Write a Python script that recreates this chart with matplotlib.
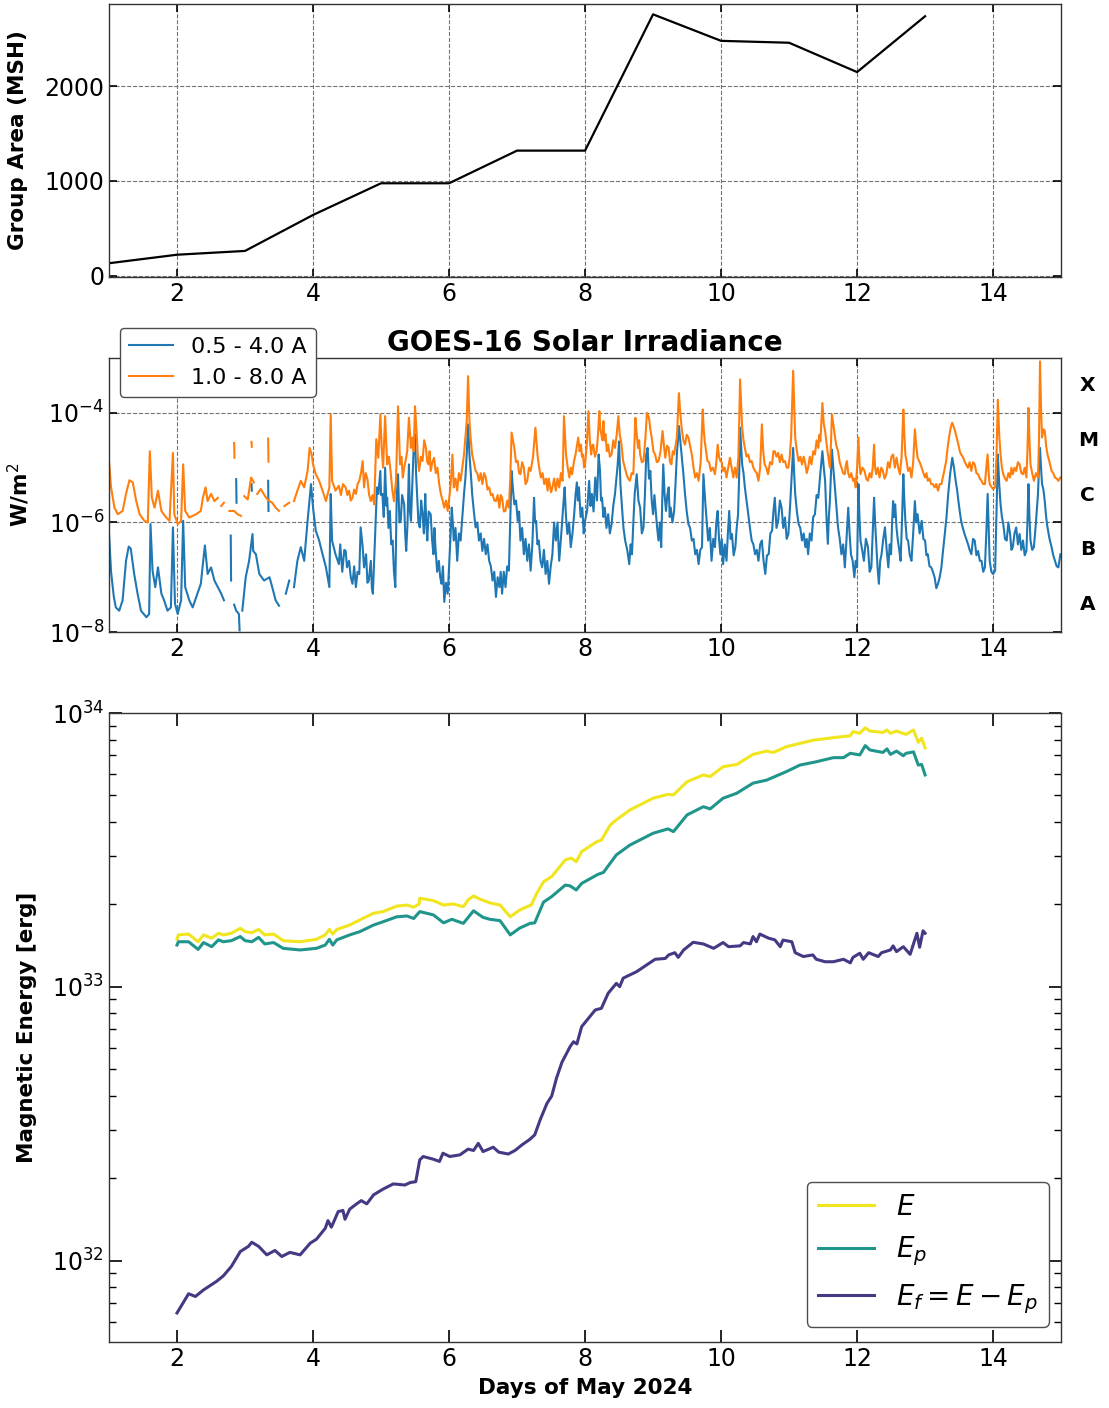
import numpy as np
import matplotlib
matplotlib.use("Agg")
import matplotlib.pyplot as plt
from matplotlib.transforms import blended_transform_factory
from matplotlib.ticker import NullLocator

nan = np.nan

# ---------------- Panel 1: sunspot group area ----------------
area_days = [1, 2, 3, 4, 5, 6, 7, 8, 9, 10, 11, 12, 13]
area_msh = [130, 220, 260, 640, 975, 975, 1320, 1320, 2760, 2480, 2460, 2150, 2740]

# ---------------- Panel 2: GOES-16 X-ray flux, log10(W/m^2) ----------------
# 1.0 - 8.0 A channel, May 1 - May 4.4
long_days_a = [1.00, 1.03, 1.08, 1.13, 1.20, 1.25, 1.30, 1.35, 1.40, 1.45, 1.52, 1.57, 1.60, 1.63, 1.67,
               1.72, 1.77, 1.84, 1.89, 1.94, 1.96, 2.01, 2.06, 2.09, 2.12, 2.18, 2.28, 2.35, 2.38, 2.42,
               2.45, 2.50, 2.55, 2.60, nan, 2.65, 2.69, nan, 2.77, 2.84, 2.89, 2.94, nan, 2.84, 2.845, nan,
               2.99, 3.04, 3.09, 3.13, nan, 3.095, 3.10, nan, 3.18, 3.23, 3.31, 3.36, 3.40, 3.45, 3.50,
               nan, 3.34, 3.345, nan, 3.58, 3.65, nan, 3.72, 3.77, 3.82, 3.87, 3.92, 3.95, 3.98, 4.00,
               4.04, 4.09, 4.14, 4.19, 4.24, 4.26, 4.28, 4.33]
long_log_a = [-4.88, -5.36, -5.73, -5.85, -5.79, -5.48, -5.23, -5.27, -5.61, -5.85, -5.97, -6.00, -4.70, -5.55, -5.73,
              -5.42, -5.79, -5.91, -5.97, -4.73, -5.85, -6.03, -5.97, -4.94, -5.79, -5.91, -5.85, -5.79, -5.55, -5.36,
              -5.61, -5.48, -5.61, -5.55, nan, -5.70, -5.64, nan, -5.79, -5.79, -5.85, -5.88, nan, -4.55, -4.82, nan,
              -5.52, -5.58, -5.18, -5.27, nan, -4.53, -4.62, nan, -5.48, -5.39, -5.55, -5.61, -5.64, -5.73, -5.79,
              nan, -4.47, -4.89, nan, -5.70, -5.64, nan, -5.61, -5.42, -5.24, -5.36, -5.06, -4.64, -4.76, -4.94,
              -5.12, -5.24, -5.42, -5.61, -5.36, -4.03, -5.24, -5.42]
# 1.0 - 8.0 A channel, May 4.4 - May 8
long_days_b = [4.38, 4.41, 4.44, 4.48, 4.505, 4.53, 4.555, 4.58, 4.605, 4.63, 4.655, 4.68, 4.705, 4.73, 4.75,
               4.775, 4.80, 4.825, 4.85, 4.875, 4.90, 4.93, 4.96, 4.99, 5.01, 5.03, 5.06, 5.09, 5.115, 5.14,
               5.165, 5.19, 5.22, 5.25, 5.28, 5.30, 5.32, 5.34, 5.36, 5.385, 5.41, 5.44, 5.46, 5.48, 5.50,
               5.53, 5.545, 5.56, 5.585, 5.61, 5.635, 5.66, 5.68, 5.70, 5.715, 5.73, 5.755, 5.78, 5.805, 5.83,
               5.855, 5.88, 5.905, 5.93, 5.955, 5.98, 6.01, 6.03, 6.05, 6.07, 6.095, 6.12, 6.145, 6.17, 6.195,
               6.22, 6.26, 6.28, 6.30, 6.32, 6.34, 6.365, 6.39, 6.415, 6.44, 6.465, 6.49, 6.515, 6.54, 6.565,
               6.59, 6.615, 6.64, 6.665, 6.69, 6.715, 6.74, 6.76, 6.78, 6.805, 6.83, 6.855, 6.88, 6.90, 6.92,
               6.94, 6.96, 6.985, 7.01, 7.03, 7.05, 7.075, 7.10, 7.125, 7.15, 7.175, 7.20, 7.235, 7.27, 7.30,
               7.325, 7.35, 7.375, 7.40, 7.425, 7.45, 7.465, 7.48, 7.50, 7.52, 7.545, 7.57, 7.595, 7.62, 7.645,
               7.67, 7.69, 7.72, 7.745, 7.77, 7.79, 7.81, 7.835, 7.86, 7.88, 7.90, 7.92, 7.94, 7.955, 7.97,
               7.985]
long_log_b = [-5.33, -5.50, -5.30, -5.36, -5.50, -5.42, -5.60, -5.55, -5.40, -5.48, -5.30, -5.24, -5.10, -4.88, -5.36,
              -5.10, -5.21, -5.50, -5.61, -5.50, -5.67, -4.48, -4.82, -4.03, -4.64, -5.00, -4.06, -4.94, -4.80, -5.06,
              -5.40, -5.61, -5.24, -3.88, -4.94, -4.80, -5.18, -5.00, -4.88, -4.70, -4.09, -4.64, -4.45, -4.70, -3.88,
              -4.52, -4.90, -5.06, -4.80, -4.88, -4.50, -4.64, -4.90, -4.94, -4.70, -5.06, -4.90, -4.82, -5.10, -5.00,
              -5.30, -5.48, -5.60, -5.73, -5.60, -5.79, -5.48, -5.20, -4.76, -5.36, -5.20, -5.42, -5.10, -5.24, -5.00,
              -4.76, -4.15, -3.33, -4.15, -4.50, -4.76, -4.90, -5.06, -5.10, -5.24, -5.10, -5.30, -5.10, -5.18, -5.40,
              -5.36, -5.50, -5.48, -5.60, -5.61, -5.50, -5.73, -5.50, -5.55, -5.80, -5.79, -5.60, -5.73, -5.20, -4.36,
              -4.50, -4.64, -4.90, -4.88, -5.10, -5.12, -4.90, -5.00, -5.30, -5.24, -5.00, -5.06, -4.80, -4.27, -4.76,
              -5.00, -5.18, -5.10, -5.30, -5.20, -5.42, -5.20, -5.30, -5.45, -5.36, -5.20, -5.42, -5.20, -5.36, -5.10,
              -5.24, -4.06, -4.76, -5.00, -5.18, -5.00, -5.12, -4.90, -4.76, -4.60, -4.45, -4.70, -4.58, -4.80, -4.76,
              -5.00]
# 1.0 - 8.0 A channel, May 8 - May 11.6
long_days_c = [8.00, 8.025, 8.05, 8.07, 8.09, 8.105, 8.12, 8.145, 8.17, 8.19, 8.21, 8.225, 8.24, 8.255, 8.27,
               8.285, 8.30, 8.32, 8.34, 8.365, 8.39, 8.415, 8.44, 8.465, 8.49, 8.51, 8.53, 8.545, 8.56, 8.585,
               8.61, 8.635, 8.66, 8.685, 8.71, 8.725, 8.74, 8.76, 8.78, 8.795, 8.81, 8.835, 8.86, 8.885, 8.91,
               8.94, 8.96, 8.98, 9.005, 9.03, 9.055, 9.08, 9.11, 9.14, 9.16, 9.18, 9.205, 9.23, 9.25, 9.27,
               9.29, 9.31, 9.33, 9.35, 9.38, 9.40, 9.42, 9.445, 9.47, 9.495, 9.52, 9.545, 9.57, 9.595, 9.62,
               9.645, 9.67, 9.70, 9.73, 9.745, 9.76, 9.78, 9.80, 9.825, 9.85, 9.88, 9.91, 9.93, 9.95, 9.97,
               9.99, 10.01, 10.03, 10.055, 10.08, 10.105, 10.13, 10.155, 10.18, 10.205, 10.23, 10.255, 10.28,
               10.31, 10.33, 10.35, 10.375, 10.40, 10.425, 10.45, 10.475, 10.50, 10.525, 10.55, 10.575, 10.60,
               10.62, 10.64, 10.665, 10.69, 10.72, 10.75, 10.77, 10.79, 10.815, 10.84, 10.865, 10.89, 10.915,
               10.94, 10.965, 10.99, 11.01, 11.03, 11.06, 11.09, 11.115, 11.14, 11.165, 11.19, 11.215, 11.24,
               11.26, 11.28, 11.305, 11.33, 11.355, 11.38, 11.405, 11.43, 11.445, 11.46, 11.49, 11.51, 11.53,
               11.565]
long_log_c = [-4.94, -4.60, -3.97, -4.50, -4.76, -4.60, -4.58, -4.80, -4.70, -4.40, -3.97, -4.30, -4.39, -4.50, -4.15,
              -4.50, -4.39, -4.70, -4.58, -4.80, -4.76, -4.50, -4.64, -4.40, -4.06, -4.40, -4.52, -4.70, -4.88, -5.00,
              -5.12, -5.20, -5.24, -5.10, -5.12, -4.60, -4.09, -4.40, -4.64, -4.50, -4.76, -4.90, -4.88, -4.50, -4.00,
              -4.09, -4.30, -4.45, -4.70, -4.76, -4.90, -4.88, -4.70, -4.33, -4.60, -4.82, -4.60, -4.64, -4.90, -4.94,
              -4.70, -4.76, -4.60, -4.45, -3.64, -4.00, -4.27, -4.50, -4.58, -4.40, -4.45, -4.60, -4.76, -5.00, -5.18,
              -5.10, -5.24, -4.90, -3.94, -4.30, -4.52, -4.70, -4.88, -4.90, -5.06, -5.00, -5.12, -4.90, -4.58, -4.80,
              -4.88, -4.90, -5.06, -5.00, -5.18, -5.00, -4.82, -5.00, -5.18, -5.00, -5.18, -4.80, -3.39,
              -4.27, -4.50, -4.64, -4.80, -4.76, -4.90, -4.88, -5.00, -5.06, -5.10, -5.24, -5.00, -4.21,
              -4.70, -4.94, -5.00, -5.12, -4.90, -4.94, -4.70, -4.70, -4.80, -4.73, -4.90, -4.76, -4.90,
              -4.88, -5.00, -5.00, -4.80, -4.45, -3.23, -4.45, -4.70, -4.88, -4.80, -4.94, -4.80, -4.94,
              -5.10, -5.00, -4.80, -4.94, -4.70, -4.76, -4.50, -4.64, -4.40, -4.52, -3.82, -4.20, -4.33,
              -4.70]
# 1.0 - 8.0 A channel, May 11.6 - May 15
long_days_d = [11.60, 11.615, 11.63, 11.65, 11.67, 11.695, 11.72, 11.745, 11.77, 11.795, 11.82, 11.835, 11.85,
               11.87, 11.89, 11.915, 11.94, 11.96, 11.98, 12.00, 12.02, 12.035, 12.05, 12.08, 12.11, 12.135,
               12.16, 12.185, 12.21, 12.23, 12.25, 12.265, 12.28, 12.305, 12.33, 12.355, 12.38, 12.405, 12.43,
               12.455, 12.48, 12.505, 12.53, 12.555, 12.58, 12.605, 12.63, 12.655, 12.68, 12.695, 12.71, 12.73,
               12.75, 12.775, 12.80, 12.825, 12.85, 12.87, 12.89, 12.92, 12.95, 12.975, 13.00, 13.02, 13.04,
               13.065, 13.09, 13.115, 13.14, 13.165, 13.19, 13.215, 13.24, 13.275, 13.31, 13.335, 13.36, 13.38,
               13.40, 13.42, 13.44, 13.465, 13.49, 13.51, 13.53, 13.555, 13.58, 13.605, 13.63, 13.655, 13.68,
               13.705, 13.73, 13.755, 13.78, 13.805, 13.83, 13.855, 13.88, 13.90, 13.92, 13.935, 13.95, 13.975,
               14.00, 14.03, 14.05, 14.07, 14.09, 14.11, 14.13, 14.15, 14.175, 14.20, 14.225, 14.25, 14.27,
               14.29, 14.315, 14.34, 14.365, 14.39, 14.415, 14.44, 14.465, 14.49, 14.505, 14.52, 14.535, 14.55,
               14.575, 14.60, 14.63, 14.66, 14.675, 14.69, 14.705, 14.72, 14.74, 14.76, 14.78, 14.80, 14.83,
               14.86, 14.885, 14.91, 14.935, 14.96, 14.99]
long_log_d = [-5.00, -4.60, -4.03, -4.20, -4.39, -4.60, -4.70, -4.90, -5.00, -5.10, -5.12, -4.95, -4.88,
              -5.10, -5.18, -5.10, -5.24, -5.20, -5.36, -5.00, -4.45, -4.90, -5.12, -5.00, -5.06, -5.20,
              -5.24, -5.10, -5.18, -5.00, -4.58, -5.00, -5.12, -5.00, -5.18, -5.00, -5.06, -5.20, -5.12,
              -4.90, -5.00, -4.80, -4.76, -5.00, -4.82, -5.00, -5.12, -4.80, -3.94, -4.40, -4.76, -4.90,
              -5.06, -5.00, -5.18, -4.90, -4.30, -4.60, -4.82, -4.90, -5.00, -5.10, -5.18, -5.10, -5.24,
              -5.20, -5.30, -5.30, -5.36, -5.30, -5.42, -5.30, -5.30, -5.10, -4.88, -4.60, -4.39, -4.25,
              -4.18, -4.25, -4.33, -4.45, -4.58, -4.70, -4.76, -4.80, -4.88, -4.95, -5.00, -4.90, -5.06,
              -4.90, -4.94, -5.10, -5.12, -5.20, -5.24, -5.30, -5.30, -5.00, -4.76, -5.10, -5.30, -5.35,
              -5.39, -5.36, -4.80, -3.76, -4.40, -4.76, -5.00, -5.12, -5.20, -5.24, -5.10, -5.18, -5.00,
              -5.12, -5.00, -5.06, -4.90, -4.94, -5.10, -5.12, -5.00, -5.18, -4.70, -3.91, -4.50, -4.94,
              -5.10, -5.24, -5.10, -5.18, -4.50, -3.06, -3.90, -4.45, -4.30, -4.33, -4.60, -4.76, -4.90,
              -5.06, -5.10, -5.18, -5.20, -5.24, -5.18]

# 0.5 - 4.0 A channel, May 1 - May 4.4
short_days_a = [1.00, 1.03, 1.07, 1.10, 1.15, 1.20, 1.25, 1.29, 1.32, 1.37, 1.42, 1.47, 1.55, 1.59, 1.61,
                1.64, 1.68, 1.72, 1.77, 1.81, 1.86, 1.91, 1.94, 1.97, 2.01, 2.06, 2.09, 2.12, 2.18, 2.23,
                2.30, 2.35, 2.38, 2.41, 2.45, 2.50, 2.55, 2.60, 2.65, 2.69, nan, 2.79, 2.795, nan, 2.84,
                2.87, 2.91, 2.92, nan, 2.87, 2.875, nan, 2.96, 3.01, 3.06, 3.11, 3.12, 3.16, 3.21, 3.28,
                3.36, 3.40, 3.45, 3.50, nan, 3.095, 3.10, nan, 3.34, 3.345, nan, 3.60, 3.65, nan, 3.72,
                3.77, 3.82, 3.87, 3.92, 3.97, 4.00, 4.04, 4.09, 4.14, 4.19, 4.24, 4.26, 4.28, 4.33]
short_log_a = [-6.20, -6.90, -7.35, -7.55, -7.61, -7.42, -6.70, -6.44, -6.48, -6.94, -7.30, -7.61, -7.73, -7.67, -6.03,
               -6.88, -7.18, -6.82, -7.30, -7.42, -7.61, -7.55, -6.09, -7.48, -7.67, -7.42, -5.97, -7.18, -7.42, -7.55,
               -7.30, -7.12, -6.76, -6.42, -6.94, -6.82, -7.06, -7.18, -7.30, -7.42, nan, -6.24, -7.06, nan, -7.50,
               -7.61, -7.67, -7.97, nan, -5.21, -5.64, nan, -7.61, -7.00, -6.70, -6.21, -6.52, -6.58, -6.94, -7.06,
               -7.00, -7.18, -7.42, -7.52, nan, -5.30, -5.42, nan, -5.24, -5.79, nan, -7.30, -7.06, nan, -7.18,
               -6.70, -6.45, -6.70, -5.97, -5.30, -5.73, -6.15, -6.33, -6.58, -6.82, -7.18, -5.48, -6.33, -6.58]
# 0.5 - 4.0 A channel, May 4.4 - May 8
short_days_b = [4.38, 4.40, 4.43, 4.46, 4.48, 4.50, 4.53, 4.555, 4.58, 4.605, 4.63, 4.655, 4.68, 4.70, 4.73,
                4.75, 4.78, 4.80, 4.82, 4.85, 4.865, 4.88, 4.91, 4.94, 4.96, 4.99, 5.00, 5.02, 5.04, 5.06,
                5.08, 5.09, 5.11, 5.13, 5.15, 5.17, 5.19, 5.21, 5.23, 5.25, 5.27, 5.29, 5.31, 5.34, 5.355,
                5.37, 5.39, 5.41, 5.425, 5.44, 5.46, 5.48, 5.50, 5.515, 5.53, 5.55, 5.57, 5.59, 5.61, 5.63,
                5.65, 5.665, 5.68, 5.70, 5.73, 5.75, 5.77, 5.785, 5.80, 5.825, 5.85, 5.87, 5.89, 5.91, 5.93,
                5.955, 5.98, 6.00, 6.02, 6.04, 6.055, 6.07, 6.095, 6.12, 6.145, 6.17, 6.195, 6.22, 6.24, 6.26,
                6.28, 6.30, 6.32, 6.34, 6.365, 6.39, 6.415, 6.44, 6.465, 6.49, 6.515, 6.54, 6.565, 6.59, 6.615,
                6.64, 6.665, 6.69, 6.715, 6.74, 6.76, 6.78, 6.805, 6.83, 6.855, 6.88, 6.90, 6.92, 6.94, 6.96,
                6.985, 7.01, 7.03, 7.05, 7.075, 7.10, 7.125, 7.15, 7.175, 7.20, 7.225, 7.25, 7.265, 7.28, 7.30,
                7.32, 7.345, 7.37, 7.395, 7.42, 7.445, 7.47, 7.495, 7.52, 7.545, 7.57, 7.595, 7.62, 7.645, 7.67,
                7.685, 7.70, 7.72, 7.74, 7.765, 7.79, 7.815, 7.84, 7.86, 7.88, 7.895, 7.91, 7.935, 7.96, 7.98]
short_log_b = [-6.76, -6.40, -6.90, -6.50, -6.52, -6.82, -6.70, -7.00, -7.12, -6.80, -7.18, -6.90, -6.94, -6.09, -6.45,
               -6.82, -6.58, -7.10, -7.06, -6.70, -7.20, -7.30, -6.33, -5.36, -5.48, -5.06, -5.50, -5.48, -5.90, -5.00,
               -5.70, -5.55, -6.10, -5.79, -6.40, -6.33, -6.90, -7.18, -5.55, -5.12, -6.00, -5.97, -5.50, -5.67, -6.20,
               -6.52, -6.00, -4.94, -5.80, -5.97, -5.30, -4.64, -4.39, -5.10, -5.48, -6.00, -6.09, -5.60, -5.85, -6.20,
               -5.48, -6.00, -6.33, -5.80, -5.85, -6.30, -6.58, -6.10, -6.45, -6.90, -6.70, -7.00, -7.12, -6.80, -7.45,
               -7.10, -7.30, -6.82, -6.30, -5.73, -6.00, -6.33, -6.10, -6.70, -6.20, -6.33, -5.90, -5.48, -5.20, -4.76,
               -4.21, -4.76, -5.10, -5.48, -5.80, -6.09, -6.00, -6.33, -6.20, -6.52, -6.30, -6.58, -6.40, -6.70, -6.80,
               -7.06, -6.90, -7.36, -7.00, -7.18, -6.90, -7.30, -6.90, -7.18, -6.80, -6.88, -6.00, -5.06, -5.40, -5.67,
               -5.60, -5.97, -5.80, -6.33, -6.10, -6.58, -6.30, -6.70, -6.40, -6.88, -6.40, -5.55, -6.00, -5.97, -6.40,
               -6.33, -6.70, -6.82, -6.50, -6.94, -6.70, -7.12, -6.80, -6.58, -6.00, -6.33, -6.00, -6.70, -6.30, -5.85,
               -5.60, -5.36, -5.90, -6.21, -6.00, -6.45, -6.20, -5.85, -5.50, -5.27, -5.60, -5.36, -5.90, -5.73, -6.20]
# 0.5 - 4.0 A channel, May 8 - May 11.6
short_days_c = [8.00, 8.03, 8.06, 8.08, 8.10, 8.125, 8.15, 8.175, 8.20, 8.22, 8.235, 8.25, 8.27, 8.29, 8.315,
                8.34, 8.365, 8.39, 8.415, 8.44, 8.46, 8.48, 8.50, 8.52, 8.54, 8.565, 8.59, 8.62, 8.65, 8.67,
                8.69, 8.71, 8.73, 8.76, 8.785, 8.81, 8.835, 8.86, 8.88, 8.90, 8.92, 8.94, 8.96, 8.98, 9.00,
                9.02, 9.04, 9.06, 9.08, 9.10, 9.12, 9.135, 9.15, 9.17, 9.19, 9.21, 9.23, 9.245, 9.26, 9.285,
                9.31, 9.33, 9.35, 9.38, 9.40, 9.42, 9.445, 9.47, 9.495, 9.52, 9.545, 9.57, 9.595, 9.62, 9.645,
                9.67, 9.695, 9.72, 9.74, 9.755, 9.77, 9.79, 9.81, 9.835, 9.86, 9.885, 9.91, 9.93, 9.95, 9.97,
                9.99, 10.01, 10.03, 10.055, 10.08, 10.10, 10.12, 10.14, 10.16, 10.185, 10.21, 10.23, 10.25,
                10.265, 10.28, 10.31, 10.33, 10.35, 10.375, 10.40, 10.425, 10.45, 10.475, 10.50, 10.525, 10.55,
                10.575, 10.60, 10.625, 10.65, 10.675, 10.70, 10.725, 10.75, 10.77, 10.79, 10.815, 10.84, 10.865,
                10.89, 10.915, 10.94, 10.965, 10.99, 11.015, 11.04, 11.06, 11.075, 11.09, 11.115, 11.14, 11.165,
                11.19, 11.215, 11.24, 11.26, 11.28, 11.305, 11.33, 11.355, 11.38, 11.405, 11.43, 11.46, 11.49,
                11.51, 11.53, 11.55, 11.57, 11.585]
short_log_c = [-5.97, -5.79, -5.24, -5.70, -5.48, -5.80, -5.18, -5.60, -4.76, -5.06, -5.60, -5.55, -5.90, -5.73, -6.10,
               -5.85, -6.20, -6.03, -5.70, -5.48, -5.20, -4.94, -4.52, -5.30, -5.67, -6.10, -6.33, -6.50, -6.76, -6.40,
               -6.58, -6.00, -5.48, -5.12, -5.60, -5.73, -6.20, -6.09, -5.50, -4.76, -4.64, -5.20, -5.06, -5.60, -5.85,
               -5.50, -5.79, -6.10, -6.33, -6.00, -6.45, -5.60, -4.94, -5.50, -5.79, -5.50, -5.36, -5.90, -5.73, -6.00,
               -5.79, -5.30, -4.76, -4.24, -4.50, -4.76, -5.10, -5.48, -5.80, -6.03, -6.10, -6.33, -6.30, -6.58, -6.50,
               -6.76, -6.50, -6.45, -5.12, -5.40, -5.67, -6.00, -6.33, -6.10, -6.70, -6.30, -6.45, -6.00, -5.79, -6.30,
               -6.58, -6.30, -6.76, -6.40, -6.70, -6.20, -5.79, -6.30, -6.21, -6.60, -6.45, -6.10, -5.85,
               -5.20, -4.27, -4.94, -5.10, -5.36, -5.60, -5.85, -6.10, -6.33, -6.40, -6.58, -6.50, -6.70,
               -6.40, -6.33, -6.70, -6.94, -6.60, -6.58, -6.20, -6.15, -5.80, -5.55, -6.10, -5.97, -5.60,
               -5.73, -6.10, -5.91, -6.30, -6.21, -5.70, -5.12, -4.64, -5.10, -5.48, -5.80, -6.03, -6.10,
               -6.33, -6.20, -6.45, -6.30, -6.58, -6.20, -6.33, -5.90, -5.85, -5.50, -5.55, -5.10, -4.70,
               -5.00, -5.24, -5.90, -6.39, -5.90]
# 0.5 - 4.0 A channel, May 11.6 - May 15
short_days_d = [11.60, 11.63, 11.65, 11.67, 11.695, 11.72, 11.745, 11.77, 11.795, 11.82, 11.845, 11.87, 11.89,
                11.91, 11.935, 11.96, 11.98, 12.00, 12.02, 12.035, 12.05, 12.075, 12.10, 12.13, 12.16, 12.185,
                12.21, 12.23, 12.25, 12.265, 12.28, 12.30, 12.32, 12.34, 12.36, 12.385, 12.41, 12.435, 12.46,
                12.48, 12.50, 12.515, 12.53, 12.545, 12.56, 12.58, 12.60, 12.62, 12.64, 12.66, 12.68, 12.695,
                12.71, 12.73, 12.75, 12.775, 12.80, 12.825, 12.85, 12.87, 12.89, 12.92, 12.95, 12.975, 13.00,
                13.02, 13.04, 13.065, 13.09, 13.115, 13.14, 13.165, 13.19, 13.215, 13.24, 13.265, 13.29, 13.315,
                13.34, 13.37, 13.40, 13.425, 13.45, 13.47, 13.49, 13.51, 13.53, 13.555, 13.58, 13.605, 13.63,
                13.655, 13.68, 13.705, 13.73, 13.755, 13.78, 13.805, 13.83, 13.855, 13.88, 13.90, 13.92, 13.935,
                13.95, 13.975, 14.00, 14.03, 14.05, 14.07, 14.09, 14.11, 14.13, 14.15, 14.175, 14.20, 14.225,
                14.25, 14.27, 14.29, 14.315, 14.34, 14.365, 14.39, 14.415, 14.44, 14.465, 14.49, 14.505, 14.52,
                14.535, 14.55, 14.575, 14.60, 14.63, 14.66, 14.675, 14.69, 14.705, 14.72, 14.74, 14.76, 14.78,
                14.80, 14.83, 14.86, 14.885, 14.91, 14.935, 14.96, 14.99]
short_log_d = [-5.61, -4.67, -5.00, -5.30, -5.70, -6.09, -6.30, -6.58, -6.40, -6.82, -6.30, -5.73, -6.20,
               -6.58, -6.70, -7.00, -6.70, -6.82, -5.30, -5.90, -6.33, -6.50, -6.70, -6.30, -6.45, -6.90,
               -6.82, -6.20, -5.55, -6.00, -6.33, -6.80, -7.12, -6.70, -6.58, -6.30, -6.09, -6.50, -6.82,
               -6.40, -6.58, -6.00, -5.61, -5.90, -5.67, -6.10, -6.33, -6.50, -6.70, -6.00, -5.12, -5.60,
               -5.97, -6.30, -6.33, -6.60, -6.70, -6.20, -5.61, -6.00, -5.85, -6.20, -5.97, -6.30, -6.33,
               -6.60, -6.58, -6.80, -6.82, -6.90, -7.00, -7.20, -7.12, -7.00, -6.82, -6.50, -6.21, -5.90,
               -5.48, -5.10, -4.82, -5.00, -5.24, -5.40, -5.61, -5.80, -5.97, -6.10, -6.21, -6.30, -6.39,
               -6.50, -6.58, -6.30, -6.33, -6.60, -6.52, -6.70, -6.70, -6.90, -6.82, -6.20, -5.48, -6.10,
               -6.70, -6.90, -6.94, -6.88, -5.80, -4.76, -5.30, -5.67, -5.90, -6.03, -6.30, -6.33, -6.00,
               -6.21, -6.50, -6.45, -6.20, -6.09, -6.40, -6.21, -6.50, -6.33, -6.60, -6.52, -6.00, -5.30,
               -5.90, -6.33, -6.50, -6.45, -6.00, -5.48, -5.00, -4.64, -5.00, -5.30, -5.40, -5.61, -5.90,
               -6.09, -6.30, -6.45, -6.60, -6.70, -6.80, -6.82, -6.58]

goes_classes = ["X", "M", "C", "B", "A"]
class_log_centers = [-3.5, -4.5, -5.5, -6.5, -7.5]

# ---------------- Panel 3: magnetic energies, log10(erg) ----------------
E_days = [2.00, 2.02, 2.17, 2.31, 2.39, 2.51, 2.61, 2.68, 2.80, 2.93, 3.00, 3.10, 3.20, 3.29, 3.42,
          3.56, 3.81, 4.05, 4.18, 4.24, 4.29, 4.35, 4.54, 4.69, 4.89, 5.03, 5.23, 5.38, 5.48, 5.56,
          5.57, 5.77, 5.92, 6.06, 6.21, 6.28, 6.36, 6.46, 6.60, 6.75, 6.90, 7.04, 7.21, 7.29, 7.39,
          7.51, 7.71, 7.80, 7.87, 7.95, 8.17, 8.24, 8.37, 8.46, 8.66, 9.00, 9.22, 9.30, 9.50, 9.74,
          9.84, 10.03, 10.23, 10.47, 10.67, 10.77, 10.96, 11.06, 11.36, 11.65, 11.90, 11.94, 12.04,
          12.12, 12.19, 12.38, 12.44, 12.49, 12.58, 12.72, 12.83, 12.90, 12.95, 13.00]
E_log = [33.174, 33.190, 33.193, 33.165, 33.190, 33.178, 33.196, 33.190, 33.196, 33.214, 33.202, 33.198,
         33.210, 33.190, 33.193, 33.169, 33.165, 33.174, 33.190, 33.210, 33.193, 33.210, 33.226, 33.245,
         33.269, 33.275, 33.295, 33.299, 33.291, 33.303, 33.324, 33.315, 33.299, 33.303, 33.293, 33.318,
         33.332, 33.320, 33.307, 33.299, 33.256, 33.281, 33.300, 33.342, 33.384, 33.403, 33.464, 33.470,
         33.457, 33.494, 33.530, 33.536, 33.591, 33.610, 33.646, 33.689, 33.703, 33.701, 33.749, 33.774,
         33.768, 33.804, 33.812, 33.849, 33.861, 33.856, 33.877, 33.883, 33.901, 33.910, 33.917, 33.932,
         33.926, 33.946, 33.934, 33.929, 33.938, 33.926, 33.934, 33.922, 33.938, 33.893, 33.908, 33.873]

Ep_days = [2.00, 2.02, 2.17, 2.31, 2.39, 2.51, 2.61, 2.68, 2.80, 2.93, 3.00, 3.10, 3.20, 3.29, 3.42,
           3.56, 3.81, 4.05, 4.18, 4.24, 4.29, 4.35, 4.54, 4.69, 4.89, 5.03, 5.23, 5.38, 5.48, 5.57,
           5.77, 5.92, 6.04, 6.21, 6.36, 6.50, 6.60, 6.75, 6.90, 7.04, 7.19, 7.26, 7.34, 7.39, 7.44,
           7.51, 7.71, 7.78, 7.87, 7.95, 8.19, 8.27, 8.46, 8.66, 9.00, 9.22, 9.30, 9.50, 9.74, 9.84,
           10.03, 10.23, 10.47, 10.67, 10.96, 11.16, 11.40, 11.65, 11.80, 11.90, 12.04, 12.12, 12.19,
           12.38, 12.44, 12.49, 12.58, 12.68, 12.72, 12.83, 12.90, 12.95, 13.00]
Ep_log = [33.153, 33.165, 33.165, 33.137, 33.162, 33.147, 33.172, 33.165, 33.169, 33.184, 33.169, 33.165,
          33.181, 33.157, 33.162, 33.141, 33.135, 33.141, 33.153, 33.174, 33.153, 33.172, 33.190, 33.202,
          33.226, 33.238, 33.256, 33.259, 33.250, 33.275, 33.263, 33.234, 33.247, 33.232, 33.278, 33.254,
          33.247, 33.242, 33.190, 33.215, 33.232, 33.234, 33.281, 33.310, 33.318, 33.330, 33.372, 33.369,
          33.354, 33.378, 33.411, 33.418, 33.482, 33.518, 33.561, 33.577, 33.567, 33.628, 33.658, 33.650,
          33.689, 33.707, 33.744, 33.755, 33.786, 33.810, 33.822, 33.837, 33.837, 33.853, 33.847, 33.881,
          33.865, 33.856, 33.869, 33.849, 33.861, 33.844, 33.853, 33.858, 33.810, 33.812, 33.774]

Ef_days = [2.00, 2.17, 2.27, 2.39, 2.58, 2.68, 2.80, 2.93, 3.05, 3.10, 3.20, 3.32, 3.44, 3.54, 3.66,
           3.81, 3.96, 4.05, 4.18, 4.22, 4.27, 4.37, 4.44, 4.47, 4.54, 4.64, 4.71, 4.79, 4.89, 5.03,
           5.18, 5.35, 5.43, 5.51, 5.57, 5.62, 5.77, 5.86, 5.91, 6.01, 6.16, 6.28, 6.36, 6.43, 6.50,
           6.65, 6.73, 6.87, 6.97, 7.07, 7.19, 7.26, 7.34, 7.44, 7.51, 7.58, 7.66, 7.78, 7.83, 7.88,
           7.95, 8.15, 8.24, 8.34, 8.46, 8.51, 8.56, 8.76, 9.03, 9.18, 9.23, 9.32, 9.37, 9.45, 9.59,
           9.74, 9.89, 10.03, 10.11, 10.28, 10.33, 10.43, 10.47, 10.52, 10.57, 10.70, 10.79, 10.87,
           10.91, 11.04, 11.09, 11.21, 11.35, 11.40, 11.53, 11.65, 11.80, 11.90, 11.94, 12.04, 12.09,
           12.17, 12.31, 12.36, 12.49, 12.53, 12.58, 12.68, 12.78, 12.88, 12.92, 12.97, 13.00]
Ef_log = [31.810, 31.880, 31.870, 31.894, 31.925, 31.945, 31.980, 32.034, 32.053, 32.068, 32.053, 32.022,
          32.038, 32.016, 32.031, 32.022, 32.065, 32.079, 32.119, 32.147, 32.123, 32.180, 32.184, 32.152,
          32.189, 32.208, 32.220, 32.208, 32.241, 32.262, 32.281, 32.277, 32.286, 32.289, 32.369, 32.381,
          32.371, 32.363, 32.393, 32.381, 32.387, 32.408, 32.403, 32.429, 32.399, 32.415, 32.397, 32.390,
          32.403, 32.423, 32.444, 32.460, 32.515, 32.575, 32.602, 32.667, 32.725, 32.782, 32.800, 32.792,
          32.855, 32.916, 32.922, 32.977, 33.013, 33.001, 33.032, 33.056, 33.101, 33.104, 33.117, 33.125,
          33.108, 33.135, 33.163, 33.157, 33.141, 33.162, 33.147, 33.150, 33.162, 33.157, 33.184, 33.165,
          33.193, 33.178, 33.172, 33.147, 33.171, 33.165, 33.125, 33.111, 33.117, 33.101, 33.092, 33.092,
          33.101, 33.088, 33.108, 33.123, 33.101, 33.125, 33.111, 33.125, 33.135, 33.150, 33.129, 33.147,
          33.119, 33.196, 33.145, 33.205, 33.196]

day_ticks = [2, 4, 6, 8, 10, 12, 14]

# ---------------- Figure ----------------
plt.rcParams['font.family'] = ['DejaVu Sans']
fig = plt.figure(figsize=(11.09, 14.08), dpi=100)

ax1 = fig.add_axes([0.0983, 0.8033, 0.8585, 0.1939])
ax2 = fig.add_axes([0.0983, 0.5511, 0.8585, 0.1946])
ax3 = fig.add_axes([0.0983, 0.0469, 0.8585, 0.4467])

TICK = 17
LABEL = 15.5


def style(ax):
    ax.tick_params(which='both', direction='in', top=True, right=True, labelsize=TICK)
    ax.tick_params(which='major', length=6, width=1.2)
    ax.tick_params(which='minor', length=4, width=1.0)
    for s in ax.spines.values():
        s.set_linewidth(1.0)
        s.set_color('0.2')


# Panel 1
ax1.plot(area_days, area_msh, color='black', lw=1.6)
ax1.set_xlim(1, 15)
ax1.set_ylim(-15, 2870)
ax1.set_xticks(day_ticks)
ax1.set_yticks([0, 1000, 2000])
ax1.grid(True, linestyle='--', color='0.45', lw=0.8)
ax1.set_ylabel('Group Area (MSH)', fontsize=LABEL, fontweight='bold')
ax1.yaxis.set_label_coords(-0.085, 0.5)
style(ax1)

# Panel 2
short_days = short_days_a + short_days_b + short_days_c + short_days_d
short_log = short_log_a + short_log_b + short_log_c + short_log_d
long_days = long_days_a + long_days_b + long_days_c + long_days_d
long_log = long_log_a + long_log_b + long_log_c + long_log_d

ax2.plot(short_days, 10 ** np.array(short_log), color='#1f77b4', lw=1.5, label='0.5 - 4.0 A')
ax2.plot(long_days, 10 ** np.array(long_log), color='#ff7f0e', lw=1.5, label='1.0 - 8.0 A')
ax2.set_yscale('log')
ax2.set_xlim(1, 15)
ax2.set_ylim(1e-8, 1e-3)
ax2.set_xticks(day_ticks)
ax2.set_yticks([1e-8, 1e-6, 1e-4])
ax2.yaxis.set_minor_locator(NullLocator())
ax2.grid(True, linestyle='--', color='0.45', lw=0.8)
ax2.set_ylabel('W/m$^2$', fontsize=LABEL, fontweight='bold')
ax2.yaxis.set_label_coords(-0.081, 0.5)
ax2.set_title('GOES-16 Solar Irradiance', fontsize=20, fontweight='bold', pad=5)
style(ax2)
ax2.legend(loc='upper left', bbox_to_anchor=(0.0115, 1.111), fontsize=16,
           framealpha=1, edgecolor='0.3', borderaxespad=0)
tr = blended_transform_factory(ax2.transAxes, ax2.transData)
for lab, c in zip(goes_classes, class_log_centers):
    ax2.text(1.028, 10 ** c, lab, transform=tr, ha='center', va='center',
             fontsize=14.5, fontweight='bold')

# Panel 3
vir = plt.get_cmap('viridis')
ax3.plot(E_days, 10 ** np.array(E_log), color=vir(0.98), lw=2.2, label='$E$')
ax3.plot(Ep_days, 10 ** np.array(Ep_log), color=vir(0.52), lw=2.2, label='$E_p$')
ax3.plot(Ef_days, 10 ** np.array(Ef_log), color=vir(0.17), lw=2.2, label='$E_f = E - E_p$')
ax3.set_yscale('log')
ax3.set_xlim(1, 15)
ax3.set_ylim(10 ** 31.704, 1e34)
ax3.set_xticks(day_ticks)
ax3.set_xlabel('Days of May 2024', fontsize=LABEL, fontweight='bold')
ax3.xaxis.set_label_coords(0.5, -0.058)
ax3.set_ylabel('Magnetic Energy [erg]', fontsize=LABEL, fontweight='bold')
ax3.yaxis.set_label_coords(-0.0756, 0.5)
style(ax3)
ax3.tick_params(which='major', length=9)
ax3.tick_params(which='minor', length=5)
ax3.legend(loc='lower right', fontsize=20, framealpha=1, edgecolor='0.3',
           bbox_to_anchor=(0.987, 0.024), borderaxespad=0)

fig.savefig('out.png', dpi=100)
